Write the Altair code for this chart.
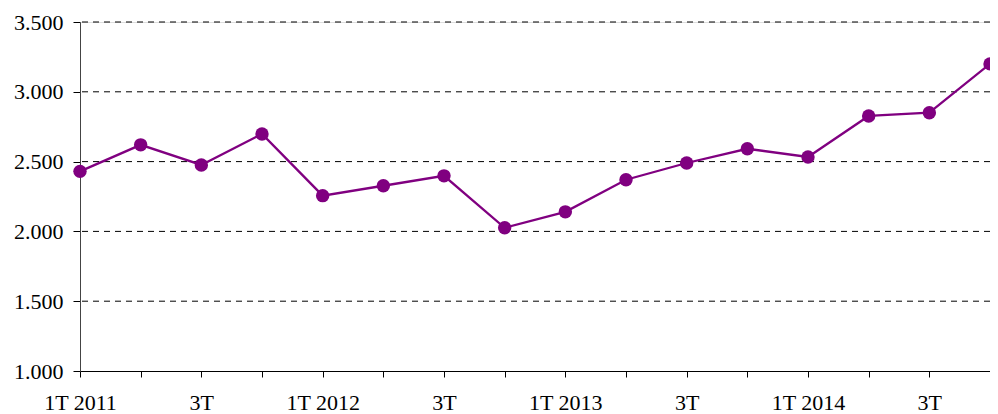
import altair as alt
import pandas as pd

quarter_index = list(range(16))
values = [2430, 2620, 2476, 2698, 2256, 2327, 2398, 2026, 2140, 2370,
          2490, 2592, 2533, 2827, 2850, 3200]
tick_labels = ["1T 2011", "", "3T", "", "1T 2012", "", "3T", "",
               "1T 2013", "", "3T", "", "1T 2014", "", "3T", ""]
y_ticks = [1000, 1500, 2000, 2500, 3000, 3500]
grid_values = [1500, 2000, 2500, 3000, 3500]

df = pd.DataFrame({"i": quarter_index, "v": values})
grid_df = pd.DataFrame({"g": grid_values})

label_js = "[" + ",".join("'" + s + "'" for s in tick_labels) + "]"

FONT = "Liberation Serif"

x_enc = alt.X(
    "i:Q",
    scale=alt.Scale(domain=[0, 15], nice=False, zero=False),
    axis=alt.Axis(
        values=quarter_index,
        labelExpr=label_js + "[datum.value]",
        title=None,
        grid=False,
        tickSize=6,
        tickColor="#000000",
        domainColor="#000000",
        labelFont=FONT,
        labelFontSize=22,
        labelColor="#000000",
        labelPadding=15,
        labelFlush=False,
        labelOverlap=False,
    ),
)

y_scale = alt.Scale(domain=[1000, 3500], nice=False, zero=False)

grid = alt.Chart(grid_df).mark_rule(
    color="#000000", strokeDash=[6, 5], strokeWidth=1
).encode(
    y=alt.Y("g:Q", scale=y_scale,
            axis=alt.Axis(
                values=y_ticks,
                labelExpr="replace(format(datum.value, ','), ',', '.')",
                title=None,
                grid=False,
                tickSize=7,
                tickColor="#000000",
                domainColor="#444444",
                labelFont=FONT,
                labelFontSize=22,
                labelColor="#000000",
                labelPadding=10,
                labelFlush=False,
            ))
)

line = alt.Chart(df).mark_line(color="#800080", strokeWidth=2.3).encode(
    x=x_enc,
    y=alt.Y("v:Q", scale=y_scale),
)

points = alt.Chart(df).mark_circle(color="#800080", size=180, opacity=1).encode(
    x=alt.X("i:Q", scale=alt.Scale(domain=[0, 15], nice=False, zero=False)),
    y=alt.Y("v:Q", scale=y_scale),
)

chart = alt.layer(grid, line, points).properties(
    width=910,
    height=349,
    autosize=alt.AutoSizeParams(type="none"),
    padding={"left": 72, "top": 14, "right": 0, "bottom": 42},
).configure_view(stroke=None).configure(background="#ffffff")

chart.save("out.html", embed_options={"renderer": "svg", "actions": False})
